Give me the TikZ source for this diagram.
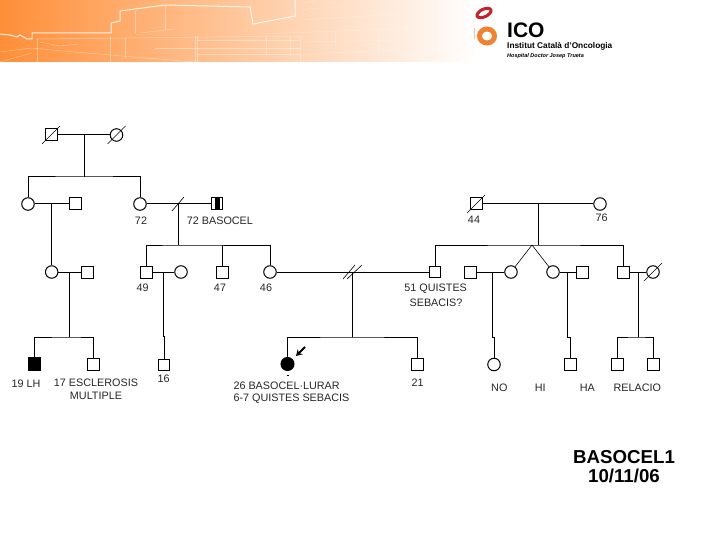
\documentclass[tikz,border=0pt]{standalone}
\usepackage{fontspec}
\setmainfont{Liberation Sans}
\usetikzlibrary{arrows.meta}
\definecolor{bannerOrange}{RGB}{255,142,56}
\definecolor{logoRed}{RGB}{200,32,40}
\definecolor{logoOrange}{RGB}{240,130,50}
\newcommand{\pedDead}[1]{\draw[markLine] ([shift={(-9pt,-9pt)}]#1.center) -- ([shift={(9pt,9pt)}]#1.center);}
\tikzset{
  male/.style={draw=black, fill=white, line width=1pt, rectangle, inner sep=0pt, minimum size=12pt},
  female/.style={draw=black, fill=white, line width=1pt, circle, inner sep=0pt, minimum size=12.5pt},
  pedLine/.style={draw=black, line width=1pt},
  markLine/.style={draw=black, line width=0.6pt},
  pedLabel/.style={anchor=base, inner sep=0pt, text=black!85, font=\fontsize{10.8}{13}\selectfont},
  bigLabel/.style={anchor=base, inner sep=0pt, font=\fontsize{18.7}{22}\selectfont\bfseries},
  buildLine/.style={draw=white, line width=0.5pt, opacity=0.4},
  farLine/.style={draw=white, line width=0.5pt, opacity=0.3}
}
\begin{document}
\begin{tikzpicture}[x=1pt,y=-1pt]
\useasboundingbox (0,0) rectangle (720,540);
\shade[left color=bannerOrange, right color=white, middle color=bannerOrange!50!white] (0,0) rectangle (476,62);
\draw[draw=white, line width=1pt, opacity=0.85] (0,34) -- (10,35) -- (17,37) -- (20,35) -- (27,39) -- (32,39) -- (32,33) -- (111,33) -- (111,23) -- (120,21) -- (120,11) -- (165,5) -- (250,7) -- (253,24) -- (295,16) -- (295,0);
\draw[buildLine] (37,39) -- (300,36);
\draw[buildLine] (37,39) -- (37,62);
\draw[buildLine] (110,36) -- (110,62);
\draw[buildLine] (125,38) -- (125,58);
\draw[buildLine] (135,11) -- (135,33);
\draw[buildLine] (165,5) -- (165,30);
\draw[buildLine] (140,33) -- (175,29);
\draw[buildLine] (0,52) -- (32,48) -- (40,49) -- (110,55) -- (195,62);
\draw[buildLine] (0,62) -- (32,53);
\draw[buildLine] (40,42) -- (60,46) -- (78,44);
\draw[buildLine] (155,48) -- (300,48);
\draw[buildLine] (195,36) -- (195,62);
\draw[buildLine] (197,36) -- (197,62);
\draw[buildLine] (197,40) -- (300,40);
\draw[buildLine] (197,54) -- (300,54);
\draw[farLine] (266,36) -- (266,54);
\draw[farLine] (290,36) -- (290,54);
\draw[farLine] (300,36) -- (300,62);
\draw[farLine] (300,42) -- (400,40);
\draw[farLine] (300,54) -- (400,50);
\draw[farLine] (335,33) -- (335,46);
\draw[farLine] (378,36) -- (378,50);
\draw[farLine] (398,34) -- (398,54);
\draw[farLine] (260,34) -- (420,28);
\draw[farLine] (300,20) -- (400,14);
\draw[farLine] (302,3) -- (316,1);
\draw[farLine] (302,10) -- (316,8);
\draw[farLine] (330,8) -- (345,5);
\draw[rotate around={25:(484,13)}, draw=logoRed, line width=3pt] (484,13) ellipse (7.5pt and 3.8pt);
\draw[draw=logoOrange, line width=5pt] (487,36) ellipse (7.5pt and 7pt);
\draw[draw=logoOrange!50, line width=0.6pt] (474,28) -- (474,39);
\node[anchor=base west, inner sep=0pt, font=\fontsize{21}{24}\selectfont\bfseries] (icoText) at (507,38) {ICO};
\node[anchor=base west, inner sep=0pt, font=\fontsize{8.3}{10}\selectfont\bfseries] (icoName) at (507,49) {Institut Català d'Oncologia};
\node[anchor=base west, inner sep=0pt, font=\fontsize{5.5}{7}\selectfont\bfseries\itshape] (icoSite) at (507,57.5) {Hospital Doctor Josep Trueta};
\node[male] (sqA) at (51,135) {};
\node[female] (cirA) at (116.5,135) {};
\node[female] (cirB) at (28,204) {};
\node[male] (sqB) at (75,204) {};
\node[female] (cirC) at (140,204) {};
\node[male, minimum width=11pt] (sqC) at (217,204) {};
\node[male] (sqD) at (476,204) {};
\node[female] (cirD) at (600,204) {};
\node[female] (cirE) at (51.7,272) {};
\node[male] (sqE) at (87,272) {};
\node[male] (sqF) at (146,272) {};
\node[female] (cirF) at (181,272) {};
\node[male] (sqG) at (222,272) {};
\node[female] (cirG) at (270,272) {};
\node[male, minimum size=11pt] (sqH) at (435,272) {};
\node[male] (sqI) at (470.5,272) {};
\node[female] (cirH) at (511,272) {};
\node[female] (cirI) at (553,272) {};
\node[male] (sqJ) at (582.5,272) {};
\node[male] (sqK) at (623.5,272) {};
\node[female] (cirJ) at (653,272) {};
\node[male, fill=black, minimum size=12.5pt] (sqL) at (34.5,364) {};
\node[male] (sqM) at (93.5,364) {};
\node[male, minimum size=11pt] (sqN) at (164,364.5) {};
\node[female, fill=black, minimum size=13pt] (cirK) at (287.5,364) {};
\node[male, minimum size=12pt] (sqO) at (417.5,364.5) {};
\node[female] (cirL) at (494,364.5) {};
\node[male] (sqP) at (570.5,364.5) {};
\node[male] (sqQ) at (617.5,364.5) {};
\node[male] (sqR) at (653.5,364.5) {};
\coordinate (mA) at (84,135);
\coordinate (sA) at (84,177);
\coordinate (mB) at (51.7,204);
\coordinate (mC) at (178,204);
\coordinate (sB) at (178,245);
\coordinate (mD) at (538,204);
\coordinate (sC) at (538,245);
\coordinate (apex) at (532,245);
\coordinate (mE) at (69,272);
\coordinate (sD) at (69,337);
\coordinate (mF) at (163,272);
\coordinate (sE) at (163,336);
\coordinate (mG) at (352,272);
\coordinate (sF) at (352,337);
\coordinate (mH) at (492,272);
\coordinate (sG) at (492,337);
\coordinate (mI) at (567,272);
\coordinate (sH) at (567,337);
\coordinate (mJ) at (638,272);
\coordinate (sI) at (638,337);
\coordinate (arrowTail) at (305,347);
\coordinate (arrowHead) at (296,356);
\draw[pedLine] (sqA) -- (cirA);
\draw[pedLine] (mA) -- (sA);
\draw[pedLine] (cirB) |- (sA) -| (cirC);
\draw[pedLine] (cirB) -- (sqB);
\draw[pedLine] (mB) -- (cirE);
\draw[pedLine] (cirC) -- (sqC);
\draw[pedLine] (mC) -- (sB);
\draw[pedLine] (sqF) |- (sB) -| (cirG);
\draw[pedLine] (sB -| sqG) -- (sqG);
\draw[pedLine] (sqD) -- (cirD);
\draw[pedLine] (mD) -- (sC);
\draw[pedLine] (sqH) |- (sC) -| (sqK);
\draw[markLine] (apex) -- (cirH);
\draw[markLine] (apex) -- (cirI);
\draw[pedLine] (cirE) -- (sqE);
\draw[pedLine] (mE) -- (sD);
\draw[pedLine] (sqL) |- (sD) -| (sqM);
\draw[pedLine] (sqF) -- (cirF);
\draw[pedLine] (mF) -- (sE) -| (sqN);
\draw[pedLine] (cirG) -- (sqH);
\draw[pedLine] (mG) -- (sF);
\draw[pedLine] (cirK) |- (sF) -| (sqO);
\draw[pedLine] (sqI) -- (cirH);
\draw[pedLine] (mH) -- (sG) -| (cirL);
\draw[pedLine] (cirI) -- (sqJ);
\draw[pedLine] (mI) -- (sH) -| (sqP);
\draw[pedLine] (sqK) -- (cirJ);
\draw[pedLine] (mJ) -- (sI);
\draw[pedLine] (sqQ) |- (sI) -| (sqR);
\pedDead{sqA}
\pedDead{cirA}
\pedDead{sqD}
\pedDead{cirJ}
\draw[markLine] ([shift={(-6pt,-7pt)}]mC) -- ([shift={(6pt,7pt)}]mC);
\draw[markLine] ([shift={(-9pt,-7pt)}]mG) -- ([shift={(3pt,7pt)}]mG);
\draw[markLine] ([shift={(-5pt,-7pt)}]mG) -- ([shift={(10pt,7pt)}]mG);
\fill[black] ([xshift=-2.5pt]sqC.north) rectangle ([xshift=2.5pt]sqC.south);
\draw[-{Stealth[length=6pt,width=7pt]}, line width=2pt] (arrowTail) -- (arrowHead);
\draw[markLine] ([shift={(-1pt,-11.5pt)}]cirK.center) -- ([shift={(1.2pt,-11.5pt)}]cirK.center);
\node[pedLabel] (lblA) at (141,225) {72};
\node[pedLabel, anchor=base west] (lblB) at (186.7,225) {72 BASOCEL};
\node[pedLabel] (lblC) at (474,224) {44};
\node[pedLabel] (lblD) at (601.7,221.7) {76};
\node[pedLabel] (lblE) at (142.7,291) {49};
\node[pedLabel] (lblF) at (220,291) {47};
\node[pedLabel] (lblG) at (266,291) {46};
\node[pedLabel] (lblH) at (435.7,291.7) {51 QUISTES};
\node[pedLabel] (lblI) at (436,306.7) {SEBACIS?};
\node[pedLabel] (lblJ) at (26,387) {19 LH};
\node[pedLabel] (lblK) at (96,386) {17 ESCLEROSIS};
\node[pedLabel] (lblL) at (96,399) {MULTIPLE};
\node[pedLabel] (lblM) at (163.7,382.7) {16};
\node[pedLabel, anchor=base west] (lblN) at (233.3,389) {26 BASOCEL·LURAR};
\node[pedLabel, anchor=base west] (lblO) at (233.3,401.7) {6-7 QUISTES SEBACIS};
\node[pedLabel] (lblP) at (417.7,386) {21};
\node[pedLabel] (lblQ) at (499.3,391) {NO};
\node[pedLabel] (lblR) at (540.3,391) {HI};
\node[pedLabel] (lblS) at (587.3,391) {HA};
\node[pedLabel] (lblT) at (637.3,391) {RELACIO};
\node[bigLabel] (lblU) at (624,463.3) {BASOCEL1};
\node[bigLabel] (lblV) at (624,482.7) {10/11/06};
\end{tikzpicture}
\end{document}
